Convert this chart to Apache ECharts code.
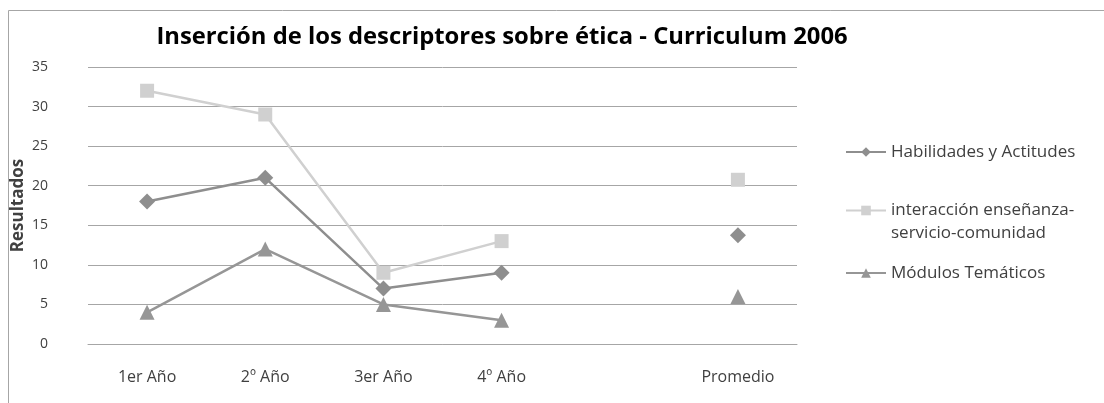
<!DOCTYPE html>
<html>
<head>
<meta charset="utf-8">
<script src="https://cdn.jsdelivr.net/npm/echarts@6/dist/echarts.min.js"></script>
<style>
  html, body { margin: 0; padding: 0; background: #fff; }
  #main { width: 1104px; height: 403px; }
</style>
</head>
<body>
<div id="main"></div>
<script>
// categorias (la 5a queda vacia, como en el original)
var categorias = ['1er Año', '2º Año', '3er Año', '4º Año', '', 'Promedio'];
var habilidades = [18, 21, 7, 9, '-', 13.75];
var interaccion = [32, 29, 9, 13, '-', 20.75];
var modulos = [4, 12, 5, 3, '-', 6];
var nombres = ['Habilidades y Actitudes', 'interacción enseñanza-servicio-comunidad', 'Módulos Temáticos'];

var fuente = 'Open Sans';
var chart = echarts.init(document.getElementById('main'));

function leyenda(nombre, top, formatter) {
  return {
    data: [nombre],
    orient: 'vertical',
    left: 845,
    top: top,
    padding: 0,
    itemWidth: 40,
    itemHeight: 12,
    textStyle: { fontFamily: fuente, fontSize: 17, color: '#404040', lineHeight: 23 },
    formatter: formatter
  };
}

var option = {
  animation: false,
  title: {
    text: 'Inserción de los descriptores sobre ética - Curriculum 2006',
    left: 497,
    textAlign: 'center',
    top: 20,
    textStyle: { fontFamily: fuente, fontSize: 23.8, fontWeight: 'bold', color: '#000' }
  },
  graphic: [{
    type: 'rect',
    shape: { x: 8.5, y: 10.5, width: 1200, height: 500 },
    style: { fill: null, stroke: '#a6a6a6', lineWidth: 1 }
  }],
  legend: [
    leyenda(nombres[0], 140.5),
    // linea vacia arriba para que el icono quede con la primera linea
    leyenda(nombres[1], 176, function () { return '\ninteracción enseñanza-\nservicio-comunidad'; }),
    leyenda(nombres[2], 261.5)
  ],
  grid: { left: 88, right: 307, top: 67, bottom: 59, outerBoundsMode: 'none' },
  xAxis: {
    type: 'category',
    data: categorias,
    boundaryGap: true,
    axisLine: { show: true, lineStyle: { color: '#a6a6a6' } },
    axisTick: { show: false },
    axisLabel: { fontFamily: fuente, fontSize: 16, color: '#404040', margin: 25, interval: 0 }
  },
  yAxis: {
    type: 'value',
    min: 0,
    max: 35,
    interval: 5,
    name: 'Resultados',
    nameLocation: 'middle',
    nameGap: 61,
    nameMoveOverlap: false,
    nameTextStyle: { fontFamily: fuente, fontSize: 17, fontWeight: 'bold', color: '#404040' },
    axisLine: { show: false },
    axisTick: { show: false },
    axisLabel: { fontFamily: fuente, fontSize: 14, color: '#404040', margin: 40 },
    splitLine: { lineStyle: { color: '#a6a6a6', width: 1 } }
  },
  series: [
    {
      name: nombres[0],
      type: 'line',
      data: habilidades,
      symbol: 'diamond',
      symbolSize: 16,
      connectNulls: false,
      lineStyle: { color: '#8e8e8e', width: 2.5 },
      itemStyle: { color: '#8e8e8e' }
    },
    {
      name: nombres[1],
      type: 'line',
      data: interaccion,
      symbol: 'rect',
      symbolSize: 14,
      connectNulls: false,
      lineStyle: { color: '#d0d0d0', width: 2.5 },
      itemStyle: { color: '#d0d0d0' }
    },
    {
      name: nombres[2],
      type: 'line',
      data: modulos,
      symbol: 'triangle',
      symbolSize: 15,
      connectNulls: false,
      lineStyle: { color: '#969696', width: 2.5 },
      itemStyle: { color: '#969696' }
    }
  ]
};
chart.setOption(option);
</script>
</body>
</html>
